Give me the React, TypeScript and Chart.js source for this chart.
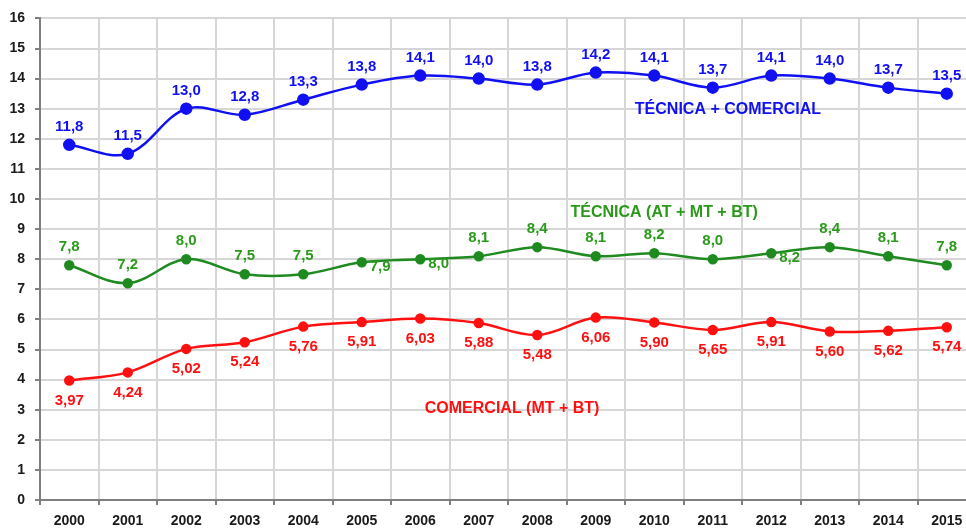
import React, { useEffect, useRef } from "react";
import { Chart, registerables } from "chart.js";

Chart.register(...registerables);

const years = ["2000", "2001", "2002", "2003", "2004", "2005", "2006", "2007", "2008", "2009", "2010", "2011", "2012", "2013", "2014", "2015"];
const total = [11.8, 11.5, 13.0, 12.8, 13.3, 13.8, 14.1, 14.0, 13.8, 14.2, 14.1, 13.7, 14.1, 14.0, 13.7, 13.5];
const tecnica = [7.8, 7.2, 8.0, 7.5, 7.5, 7.9, 8.0, 8.1, 8.4, 8.1, 8.2, 8.0, 8.2, 8.4, 8.1, 7.8];
const comercial = [3.97, 4.24, 5.02, 5.24, 5.76, 5.91, 6.03, 5.88, 5.48, 6.06, 5.90, 5.65, 5.91, 5.60, 5.62, 5.74];
const seriesNames = ["TÉCNICA + COMERCIAL", "TÉCNICA (AT + MT + BT)", "COMERCIAL (MT + BT)"];

const BLUE = "#1010f2";
const GREEN_LINE = "#1f8a1f";
const GREEN_TEXT = "#2a9a1a";
const RED = "#ff1010";
const FONT = "'Liberation Sans', Arial, sans-serif";

// label placement style per dataset
const labelStyle = [
  { color: BLUE, decimals: 1, place: () => "above" },
  { color: GREEN_TEXT, decimals: 1, place: (i: number) => ([5, 6, 12].includes(i) ? "right" : "above") },
  { color: RED, decimals: 2, place: () => "below" },
];
// series name anchor (in data coordinates: category index, value)
const nameAnchors = [
  { x: 11.26, y: 12.96, color: BLUE },
  { x: 10.17, y: 9.54, color: GREEN_TEXT },
  { x: 7.57, y: 3.03, color: RED },
];

const labelsPlugin = {
  id: "customLabels",
  afterDatasetsDraw(chart: any) {
    const ctx = chart.ctx;
    ctx.save();
    ctx.font = `bold 15px ${FONT}`;
    chart.data.datasets.forEach((ds: any, di: number) => {
      const meta = chart.getDatasetMeta(di);
      const st = labelStyle[di];
      ctx.fillStyle = st.color;
      meta.data.forEach((pt: any, i: number) => {
        const v = ds.data[i];
        const txt = v.toFixed(st.decimals).replace(".", ",");
        const p = st.place(i);
        ctx.textBaseline = "middle";
        if (p === "above") {
          ctx.textAlign = "center";
          ctx.fillText(txt, pt.x, pt.y - 18);
        } else if (p === "below") {
          ctx.textAlign = "center";
          ctx.fillText(txt, pt.x, pt.y + 20);
        } else {
          ctx.textAlign = "left";
          ctx.fillText(txt, pt.x + 8, pt.y + 5);
        }
      });
    });
    const xs = chart.scales.x;
    const ys = chart.scales.y;
    ctx.font = `bold 16px ${FONT}`;
    ctx.textAlign = "center";
    ctx.textBaseline = "middle";
    nameAnchors.forEach((a, i) => {
      ctx.fillStyle = a.color;
      ctx.fillText(seriesNames[i], xs.getPixelForValue(a.x), ys.getPixelForValue(a.y));
    });
    ctx.restore();
  },
};

export default function App() {
  const ref = useRef<HTMLCanvasElement>(null);
  useEffect(() => {
    if (!ref.current) return;
    const chart = new Chart(ref.current, {
      type: "line",
      data: {
        labels: years,
        datasets: [
          { label: seriesNames[0], data: total, borderColor: BLUE, backgroundColor: BLUE, borderWidth: 2.5, pointRadius: 5, tension: 0.35 },
          { label: seriesNames[1], data: tecnica, borderColor: GREEN_LINE, backgroundColor: GREEN_LINE, borderWidth: 2.5, pointRadius: 4, tension: 0.35 },
          { label: seriesNames[2], data: comercial, borderColor: RED, backgroundColor: RED, borderWidth: 2.5, pointRadius: 4, tension: 0.35 },
        ],
      },
      options: {
        responsive: false,
        animation: false,
        layout: { padding: { top: 16, right: 9, left: 0, bottom: 0 } },
        plugins: { legend: { display: false }, tooltip: { enabled: false } },
        scales: {
          x: {
            offset: true,
            grid: { offset: true, color: "#d6d6d6", lineWidth: 2, tickLength: 5, tickColor: "#7f7f7f", tickWidth: 2 },
            border: { color: "#7f7f7f", width: 2 },
            ticks: { color: "#1a1a1a", font: { family: FONT, size: 14, weight: "bold" }, padding: 8, maxRotation: 0, autoSkip: false },
            afterFit: (s: any) => { s.height = 30; },
          },
          y: {
            min: 0,
            max: 16,
            grid: { color: "#d6d6d6", lineWidth: 2, tickLength: 5, tickColor: "#7f7f7f", tickWidth: 2 },
            border: { color: "#7f7f7f", width: 2 },
            ticks: { stepSize: 1, color: "#1a1a1a", font: { family: FONT, size: 14, weight: "bold" }, padding: 10 },
            afterFit: (s: any) => { s.width = 40; },
          },
        },
      },
      plugins: [labelsPlugin],
    });
    return () => chart.destroy();
  }, []);
  return (
    <div style={{ position: "fixed", left: 0, top: 0, width: 966, height: 530, overflow: "hidden", background: "#fff" }}>
      <canvas ref={ref} width={985} height={530} />
    </div>
  );
}
